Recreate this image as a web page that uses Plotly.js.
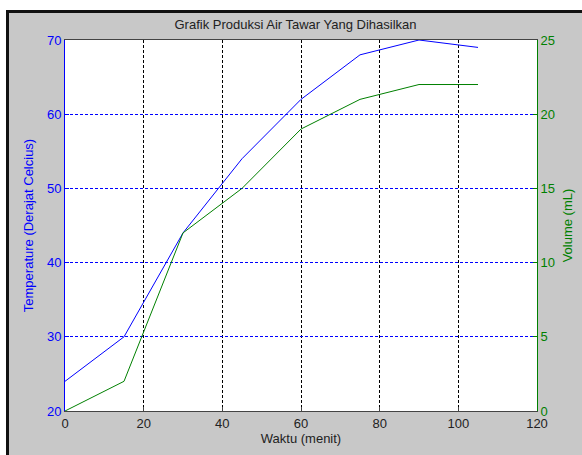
<!DOCTYPE html>
<html>
<head>
<meta charset="utf-8">
<script src="https://cdn.plot.ly/plotly-3.0.1.min.js"></script>
<style>
html,body{margin:0;padding:0;background:#ffffff;width:582px;height:455px;overflow:hidden;}
#frame{position:absolute;left:6px;top:10px;width:576px;height:445px;border-left:3px solid #111;border-top:3px solid #111;box-sizing:border-box;background:#c8c8c8;}
#chart{position:absolute;left:0;top:0;width:573px;height:442px;}
</style>
</head>
<body>
<div id="frame"><div id="chart"></div></div>
<script>
var waktu = [0, 15, 30, 45, 60, 75, 90, 105];
var temperature = [24, 30, 44, 54, 62, 68, 70, 69];
var volume = [0, 2, 12, 15, 19, 21, 22, 22];
var xTicks = [0, 20, 40, 60, 80, 100, 120];
var tempTicks = [20, 30, 40, 50, 60, 70];
var volTicks = [0, 5, 10, 15, 20, 25];

var fontFam = '"Liberation Sans", Arial, sans-serif';
var blue = '#0000ff';
var green = '#008000';

var traces = [
  {x: waktu, y: temperature, type: 'scatter', mode: 'lines', line: {color: blue, width: 1}, yaxis: 'y', name: 'Temperature'},
  {x: waktu, y: volume, type: 'scatter', mode: 'lines', line: {color: green, width: 1}, yaxis: 'y2', name: 'Volume'}
];

var layout = {
  width: 573, height: 442,
  margin: {l: 56, r: 45, t: 27, b: 44, pad: 0},
  paper_bgcolor: '#c8c8c8',
  plot_bgcolor: '#ffffff',
  showlegend: false,
  font: {family: fontFam, size: 13, color: '#222'},
  title: {text: 'Grafik Produksi Air Tawar Yang Dihasilkan', font: {family: fontFam, size: 13, color: '#222'}, x: 0.5, xanchor: 'center', y: 0.975, yanchor: 'middle'},
  xaxis: {
    range: [0, 120], tickvals: xTicks, ticktext: xTicks.map(String),
    showgrid: true, gridcolor: '#000000', griddash: '3px,2px', gridwidth: 1,
    zeroline: false, showline: true, linecolor: '#444', linewidth: 1, mirror: true,
    ticks: 'inside', ticklen: 4, tickcolor: '#444',
    tickfont: {family: fontFam, size: 13, color: '#222'},
    title: {text: 'Waktu (menit)', font: {family: fontFam, size: 13, color: '#222'}, standoff: 3}
  },
  yaxis: {
    range: [20, 70], tickvals: tempTicks, ticktext: tempTicks.map(String),
    showgrid: true, gridcolor: blue, griddash: '3px,2px', gridwidth: 1,
    zeroline: false, showline: true, linecolor: blue, linewidth: 1,
    ticks: 'inside', ticklen: 4, tickcolor: blue,
    tickfont: {family: fontFam, size: 13, color: blue},
    title: {text: 'Temperature (Derajat Celcius)', font: {family: fontFam, size: 13, color: blue}, standoff: 10}
  },
  yaxis2: {
    range: [0, 25], tickvals: volTicks, ticktext: volTicks.map(String),
    overlaying: 'y', side: 'right', anchor: 'x',
    showgrid: false, zeroline: false, showline: true, linecolor: green, linewidth: 1,
    ticks: 'inside', ticklen: 4, tickcolor: green,
    tickfont: {family: fontFam, size: 13, color: green},
    title: {text: 'Volume (mL)', font: {family: fontFam, size: 13, color: green}, standoff: 8}
  }
};

Plotly.newPlot('chart', traces, layout, {displayModeBar: false, staticPlot: true});
</script>
</body>
</html>
